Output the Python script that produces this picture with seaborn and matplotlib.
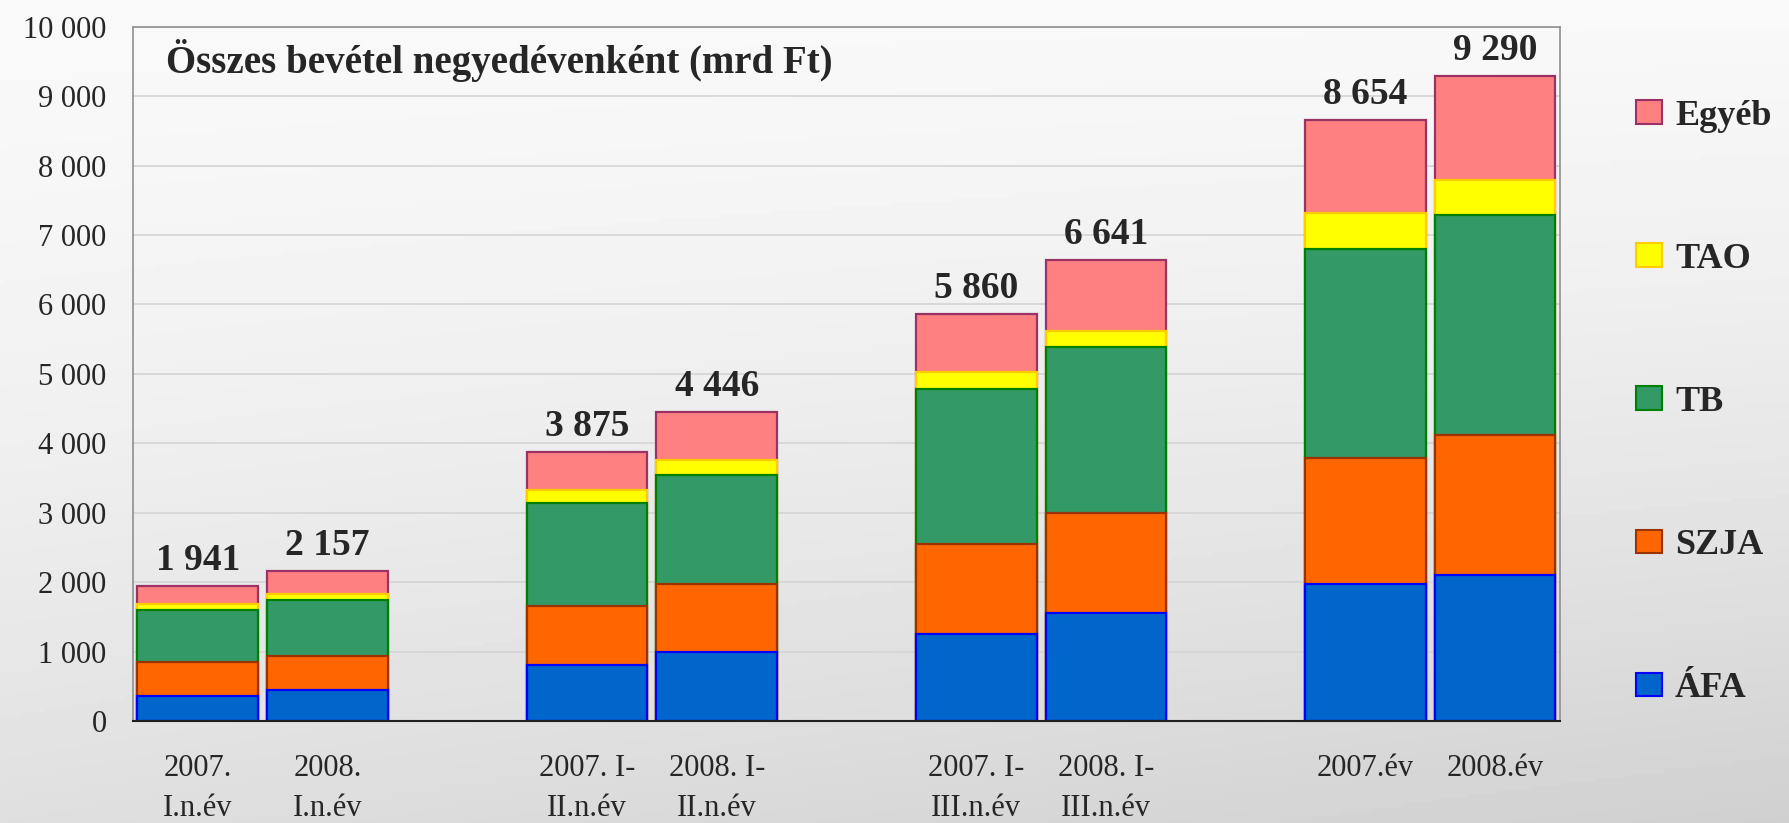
import numpy as np
import pandas as pd
import matplotlib
matplotlib.use("Agg")
import matplotlib.pyplot as plt
from matplotlib.patches import Patch
import seaborn as sns

# -----------------------------
# Data (mrd Ft)
# -----------------------------
periods = ["2007.\nI.n.év", "2008.\nI.n.év",
           "2007. I-\nII.n.év", "2008. I-\nII.n.év",
           "2007. I-\nIII.n.év", "2008. I-\nIII.n.év",
           "2007.év", "2008.év"]
afa = [359, 445, 799, 990, 1248, 1558, 1967, 2103]
szja = [493, 493, 857, 981, 1301, 1437, 1815, 2012]
tb = [751, 808, 1478, 1574, 2239, 2398, 3011, 3177]
tao = [86, 77, 191, 211, 242, 220, 522, 499]
egyeb = [252, 334, 550, 690, 830, 1028, 1339, 1499]
totals = [1941, 2157, 3875, 4446, 5860, 6641, 8654, 9290]

series = ["ÁFA", "SZJA", "TB", "TAO", "Egyéb"]
fills = ["#0066cc", "#ff6600", "#339966", "#ffff00", "#ff8080"]
edges = ["#0000ff", "#993300", "#008000", "#ffcc00", "#993366"]

# empty slots between the groups
order = [periods[0], periods[1], " ",
         periods[2], periods[3], "  ",
         periods[4], periods[5], "   ",
         periods[6], periods[7]]

df = pd.DataFrame({"period": periods, "ÁFA": afa, "SZJA": szja,
                   "TB": tb, "TAO": tao, "Egyéb": egyeb})
cum = df[series].cumsum(axis=1)
cum["period"] = df["period"]

sns.set_style("white")
plt.rcParams["font.family"] = ["Liberation Serif", "DejaVu Serif"]

fig = plt.figure(figsize=(17.89, 8.23), dpi=100)

# faded background
bg = fig.add_axes([0, 0, 1, 1])
yy = np.linspace(0, 1, 200)[:, None]
xx = np.linspace(0, 1, 400)[None, :]
shade = 0.975 - 0.10 * yy ** 1.6 - 0.06 * xx * yy
bg.imshow(shade, aspect="auto", cmap="gray", vmin=0, vmax=1,
          extent=[0, 1, 0, 1])
bg.axis("off")

ax = fig.add_axes([0.0743, 0.124, 0.7977, 0.8436])
ax.patch.set_alpha(0)

# stacked bars: draw cumulative totals from the top down
for name, fc, ec in reversed(list(zip(series, fills, edges))):
    sns.barplot(data=cum, x="period", y=name, order=order, color=fc,
                saturation=1, edgecolor=ec, linewidth=1.6, width=0.93,
                errorbar=None, ax=ax, zorder=2)

pos = [order.index(p) for p in periods]
for x, t in zip(pos, totals):
    ax.text(x, t + 230, f"{t:,}".replace(",", " "), ha="center",
            va="baseline", fontsize=27, fontweight="bold")

ax.set_ylim(0, 10000)
ax.set_xlim(-0.5, len(order) - 0.5)
ax.set_yticks(range(0, 10001, 1000))
ax.set_yticklabels([f"{v:,}".replace(",", " ") for v in range(0, 10001, 1000)],
                   fontsize=22)
ax.set_xticks(pos)
ax.set_xticklabels(periods, fontsize=22, linespacing=1.5, va="top")
ax.set_xticks(np.arange(-0.5, len(order), 1), minor=True)
ax.tick_params(axis="x", which="major", length=0, pad=24)
ax.tick_params(axis="x", which="minor", length=8, color="#404040", width=1)
ax.tick_params(axis="y", length=8, color="#909090", pad=11)
ax.set_xlabel("")
ax.set_ylabel("")

ax.yaxis.grid(True, color="#d4d4d4", linewidth=1.2)
ax.set_axisbelow(True)
for s in ["top", "right", "left"]:
    ax.spines[s].set_color("#909090")
    ax.spines[s].set_linewidth(1.2)
ax.spines["bottom"].set_color("#202020")
ax.spines["bottom"].set_linewidth(1.5)

ax.text(0.0231, 0.9333, "Összes bevétel negyedévenként (mrd Ft)",
        transform=ax.transAxes, ha="left", va="baseline",
        fontsize=28, fontweight="bold")

handles = [Patch(facecolor=fc, edgecolor=ec, linewidth=1.5, label=n)
           for n, fc, ec in zip(series, fills, edges)][::-1]
fig.legend(handles=handles, loc="upper left", bbox_to_anchor=(0.9145, 0.879),
           frameon=False, prop={"size": 26, "weight": "bold"},
           handlelength=0.72, handleheight=0.62, handletextpad=0.36,
           labelspacing=3.05, borderpad=0, borderaxespad=0)

plt.savefig("out.png", dpi=100)
plt.close()
